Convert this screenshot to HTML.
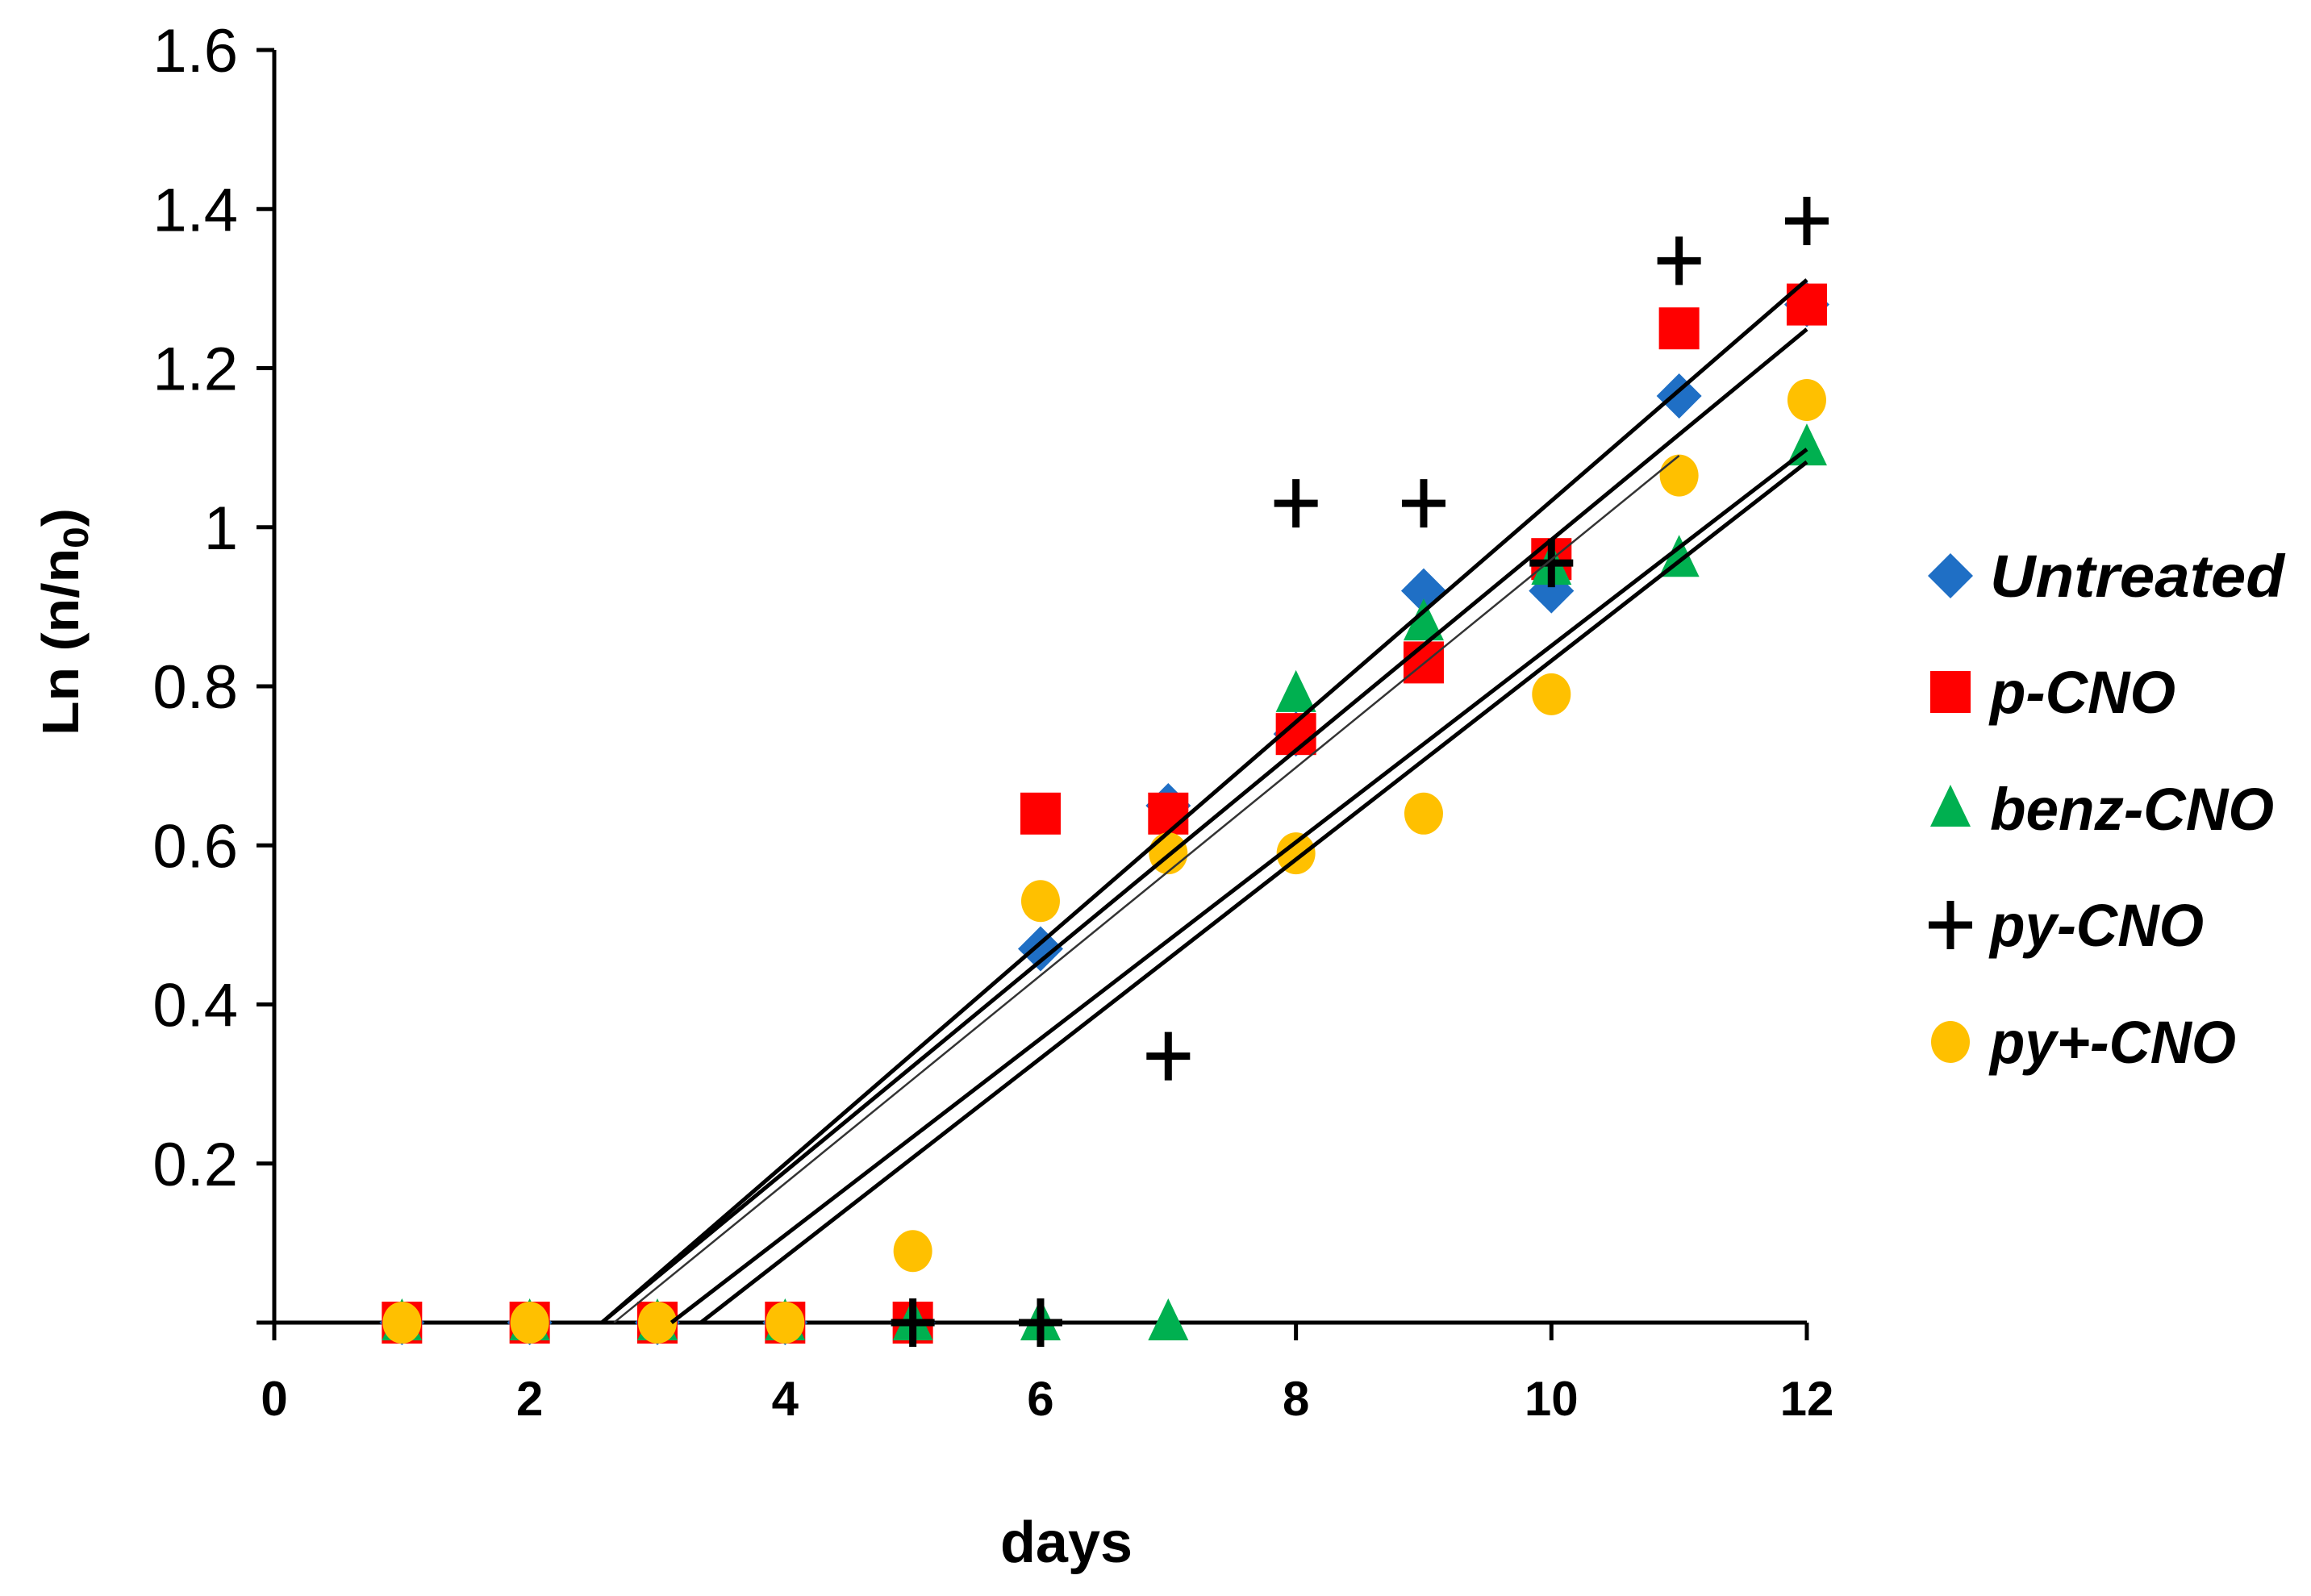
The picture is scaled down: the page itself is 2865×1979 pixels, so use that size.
<!DOCTYPE html>
<html><head><meta charset="utf-8"><style>
html,body{margin:0;padding:0;background:#fff;}
svg{display:block;}
</style></head><body>
<svg id="chart" width="2865" height="1979" viewBox="0 0 2865 1979" xmlns="http://www.w3.org/2000/svg">
<g id="axes"></g>
<g id="marks"></g>
<g id="lines"></g>
<text x="1322" y="1937" font-family="Liberation Sans, sans-serif" font-weight="bold" font-size="72" text-anchor="middle">days</text>
<text transform="translate(97,771) rotate(-90)" font-family="Liberation Sans, sans-serif" font-weight="bold" font-size="64" text-anchor="middle" textLength="282" lengthAdjust="spacingAndGlyphs">Ln (n/n<tspan font-size="44" dy="12">0</tspan><tspan dy="-12">)</tspan></text>
<g id="legend"></g>
</svg>
<script>
const days = [1,2,3,4,5,6,7,8,9,10,11,12];
const untreated = [0,0,0,0,0,0.47,0.65,0.74,0.92,0.92,1.165,1.28];
const pCNO = [0,0,0,0,0,0.64,0.64,0.74,0.83,0.96,1.25,1.28];
const benzCNO = [0,0,0,0,0,0,0,0.79,0.88,0.95,0.96,1.10];
const pyDays = [5,6,7,8,9,10,11,12];
const pyCNO = [0,0,0.335,1.03,1.03,0.955,1.335,1.385];
const pyPlusCNO = [0,0,0,0,0.09,0.53,0.59,0.59,0.64,0.79,1.065,1.16];
const yTicks = [0.2,0.4,0.6,0.8,1,1.2,1.4,1.6];
const yTickLabels = ["0.2","0.4","0.6","0.8","1","1.2","1.4","1.6"];
const xTicks = [0,2,4,6,8,10,12];
const trendStartX = [2.565,2.565,2.66,3.11,3.34];
const trendEndX = [12,12,11,12,12];
const trendEndY = [1.311,1.249,1.09,1.098,1.082];
const trendWidth = [5,5,2.5,5,5];
const seriesNames = ["Untreated","p-CNO","benz-CNO","py-CNO","py+-CNO"];

const NS="http://www.w3.org/2000/svg";
const X0=340, Y0=1640, XS=158.33, YS=986.25;
const sx=d=>X0+d*XS, sy=v=>Y0-v*YS;
function mk(tag,attrs,parent){const e=document.createElementNS(NS,tag);for(const k in attrs)e.setAttribute(k,attrs[k]);parent.appendChild(e);return e;}
const axes=document.getElementById('axes'), marks=document.getElementById('marks'), lines=document.getElementById('lines'), legend=document.getElementById('legend');
let e;
e=mk('line',{x1:X0,y1:sy(1.6),x2:X0,y2:Y0,stroke:'#000','stroke-width':5},axes);


e=mk('line',{x1:X0-22,y1:Y0,x2:sx(12),y2:Y0,stroke:'#000','stroke-width':5},axes);


yTicks.forEach((v,i)=>{
  const t=mk('line',{x1:X0-22,y1:sy(v),x2:X0,y2:sy(v),stroke:'#000','stroke-width':5},axes);
  
  
  const l=mk('text',{x:295,y:sy(v)+27,'font-family':'Liberation Sans, sans-serif','font-size':76,'text-anchor':'end'},axes);
  l.textContent=yTickLabels[i];
  
  
});
xTicks.forEach(v=>{
  const t=mk('line',{x1:sx(v),y1:Y0,x2:sx(v),y2:Y0+22,stroke:'#000','stroke-width':5},axes);
  
  
  const l=mk('text',{x:sx(v),y:1755,'font-family':'Liberation Sans, sans-serif','font-weight':'bold','font-size':60,'text-anchor':'middle'},axes);
  l.textContent=String(v);
  
  
});
function marker(type,cx,cy,parent){
  let m;
  if(type==='diamond') m=mk('polygon',{points:`${cx},${cy-28} ${cx+28},${cy} ${cx},${cy+28} ${cx-28},${cy}`,fill:'#1f6fc5'},parent);
  else if(type==='square') m=mk('rect',{x:cx-25,y:cy-26,width:50,height:52,fill:'#ff0000'},parent);
  else if(type==='triangle') m=mk('polygon',{points:`${cx},${cy-30} ${cx+25},${cy+22} ${cx-25},${cy+22}`,fill:'#00b050'},parent);
  else if(type==='circle') m=mk('ellipse',{cx:cx,cy:cy,rx:24,ry:26,fill:'#ffc000'},parent);
  else { m=mk('path',{d:`M${cx-27},${cy}H${cx+27}M${cx},${cy-30}V${cy+30}`,stroke:'#000','stroke-width':9,fill:'none'},parent); }
  return m;
}
const series=[['diamond',days,untreated,'untreated'],['square',days,pCNO,'p-cno'],['triangle',days,benzCNO,'benz-cno'],['circle',days,pyPlusCNO,'py-plus-cno'],['plus',pyDays,pyCNO,'py-cno']];
series.forEach(s=>{
  s[1].forEach((d,i)=>{
    const m=marker(s[0],sx(d),sy(s[2][i]),marks);
    
    
  });
});
trendStartX.forEach((x0,i)=>{
  const l=mk('line',{x1:sx(x0),y1:sy(0),x2:sx(trendEndX[i]),y2:sy(trendEndY[i]),stroke:i===2?'#333':'#000','stroke-width':trendWidth[i]},lines);
  
  
});
const legTypes=['diamond','square','triangle','plus','circle'];
const legY=[714,858,1003,1147,1292];
const legLen=[365,230,352,265,305];
seriesNames.forEach((n,i)=>{
  const g=mk('g',{},legend);
  
  
  marker(legTypes[i],2418,legY[i],g);
  const t=mk('text',{x:2467,y:legY[i]+26,'font-family':'Liberation Sans, sans-serif','font-weight':'bold','font-style':'italic','font-size':74,textLength:legLen[i],lengthAdjust:'spacingAndGlyphs'},g);
  t.textContent=n;
});
</script>
</body></html>
